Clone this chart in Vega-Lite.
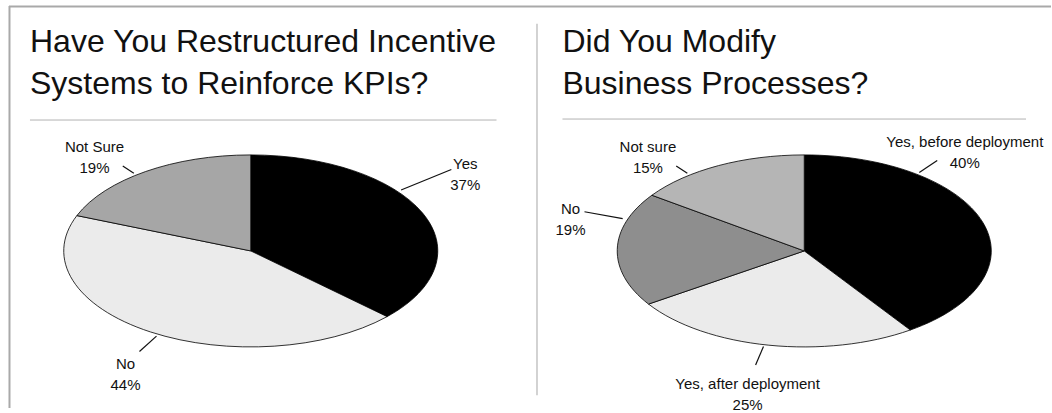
{
  "$schema": "https://vega.github.io/schema/vega-lite/v6.json",
  "width": 1052,
  "height": 413,
  "autosize": {"type": "fit", "contains": "padding"},
  "padding": 0,
  "background": "#ffffff",
  "config": {"view": {"stroke": null}},
  "datasets": {
    "survey": [
      {"panel": "A", "question": "Have You Restructured Incentive Systems to Reinforce KPIs?", "answer": "Yes", "pct": 37},
      {"panel": "A", "question": "Have You Restructured Incentive Systems to Reinforce KPIs?", "answer": "No", "pct": 44},
      {"panel": "A", "question": "Have You Restructured Incentive Systems to Reinforce KPIs?", "answer": "Not Sure", "pct": 19},
      {"panel": "B", "question": "Did You Modify Business Processes?", "answer": "Yes, before deployment", "pct": 40},
      {"panel": "B", "question": "Did You Modify Business Processes?", "answer": "Yes, after deployment", "pct": 25},
      {"panel": "B", "question": "Did You Modify Business Processes?", "answer": "No", "pct": 19},
      {"panel": "B", "question": "Did You Modify Business Processes?", "answer": "Not sure", "pct": 15}
    ]
  },
  "layer": [
    {
      "data": {"values": [{}]},
      "mark": {"type": "rule", "color": "#a9a9a9", "strokeWidth": 2},
      "encoding": {
        "x": {"datum": 9, "type": "quantitative", "scale": {"domain": [0, 1052], "nice": false, "zero": false}, "axis": null},
        "x2": {"datum": 1052},
        "y": {"datum": 6.5, "type": "quantitative", "scale": {"domain": [0, 413], "reverse": true, "nice": false, "zero": false}, "axis": null}
      }
    },
    {
      "data": {"values": [{}]},
      "mark": {"type": "rule", "color": "#a9a9a9", "strokeWidth": 2},
      "encoding": {
        "x": {"datum": 9.5, "type": "quantitative", "scale": {"domain": [0, 1052], "nice": false, "zero": false}, "axis": null},
        "y": {"datum": 6, "type": "quantitative", "scale": {"domain": [0, 413], "reverse": true, "nice": false, "zero": false}, "axis": null},
        "y2": {"datum": 413}
      }
    },
    {
      "data": {"values": [{}]},
      "mark": {"type": "rule", "color": "#c4c4c4", "strokeWidth": 1.5},
      "encoding": {
        "x": {"datum": 537.5, "type": "quantitative", "scale": {"domain": [0, 1052], "nice": false, "zero": false}, "axis": null},
        "y": {"datum": 24, "type": "quantitative", "scale": {"domain": [0, 413], "reverse": true, "nice": false, "zero": false}, "axis": null},
        "y2": {"datum": 400}
      }
    },
    {
      "data": {"values": [{}]},
      "mark": {"type": "rule", "color": "#b3b3b3", "strokeWidth": 1},
      "encoding": {
        "x": {"datum": 30, "type": "quantitative", "scale": {"domain": [0, 1052], "nice": false, "zero": false}, "axis": null},
        "x2": {"datum": 497},
        "y": {"datum": 121.5, "type": "quantitative", "scale": {"domain": [0, 413], "reverse": true, "nice": false, "zero": false}, "axis": null}
      }
    },
    {
      "data": {"values": [{}]},
      "mark": {"type": "rule", "color": "#b3b3b3", "strokeWidth": 1},
      "encoding": {
        "x": {"datum": 563, "type": "quantitative", "scale": {"domain": [0, 1052], "nice": false, "zero": false}, "axis": null},
        "x2": {"datum": 1027},
        "y": {"datum": 120.5, "type": "quantitative", "scale": {"domain": [0, 413], "reverse": true, "nice": false, "zero": false}, "axis": null}
      }
    },
    {
      "data": {"values": [{}]},
      "mark": {"type": "text", "text": ["Have You Restructured Incentive", "Systems to Reinforce KPIs?"], "align": "left", "baseline": "alphabetic", "font": "Liberation Sans", "fontSize": 32, "lineHeight": 42, "color": "#111111"},
      "encoding": {
        "x": {"datum": 30, "type": "quantitative", "scale": {"domain": [0, 1052], "nice": false, "zero": false}, "axis": null},
        "y": {"datum": 52.5, "type": "quantitative", "scale": {"domain": [0, 413], "reverse": true, "nice": false, "zero": false}, "axis": null}
      }
    },
    {
      "data": {"values": [{}]},
      "mark": {"type": "text", "text": ["Did You Modify", "Business Processes?"], "align": "left", "baseline": "alphabetic", "font": "Liberation Sans", "fontSize": 32, "lineHeight": 42, "color": "#111111"},
      "encoding": {
        "x": {"datum": 563, "type": "quantitative", "scale": {"domain": [0, 1052], "nice": false, "zero": false}, "axis": null},
        "y": {"datum": 52.5, "type": "quantitative", "scale": {"domain": [0, 413], "reverse": true, "nice": false, "zero": false}, "axis": null}
      }
    },
    {
      "data": {"name": "survey"},
      "transform": [
        {"joinaggregate": [{"op": "sum", "field": "pct", "as": "total"}], "groupby": ["panel"]},
        {"window": [{"op": "sum", "field": "pct", "as": "cum"}], "groupby": ["panel"], "frame": [null, 0]},
        {"calculate": "(datum.cum - datum.pct) / datum.total", "as": "f0"},
        {"calculate": "datum.cum / datum.total", "as": "f1"},
        {"calculate": "PI * (datum.f0 + datum.f1)", "as": "am"},
        {"calculate": "datum.panel === 'A' ? 251 : 805", "as": "cx"},
        {"calculate": "datum.panel === 'A' ? 22 : 549", "as": "xmin"},
        {"calculate": "datum.panel === 'A' ? 525 : 1046", "as": "xmax"},
        {"calculate": "datum.panel + '|' + datum.answer", "as": "key"},
        {"calculate": "'M0,0L' + (round(10000*sin(2*PI*datum.f0))/10000) + ',' + (round(-5134*cos(2*PI*datum.f0))/10000) + 'A1,0.5134 0 ' + (datum.f1 - datum.f0 > 0.5 ? '1' : '0') + ' 1 ' + (round(10000*sin(2*PI*datum.f1))/10000) + ',' + (round(-5134*cos(2*PI*datum.f1))/10000) + 'Z'", "as": "wedge"},
        {"calculate": "datum.answer + '\\n' + datum.pct + '%'", "as": "label"},
        {"calculate": "7.3 * max(length(datum.answer), length(datum.pct + '%'))", "as": "w"},
        {"calculate": "datum.cx + 223 * sin(datum.am) + sin(datum.am) * datum.w / 2", "as": "lx0"},
        {"calculate": "254 - 137 * cos(datum.am) - 40 * sin(datum.am) * sin(datum.am) * (cos(datum.am) >= -0.3 ? 1 : 0.1)", "as": "ly0"},
        {"calculate": "clamp(datum.lx0, datum.xmin + datum.w / 2, datum.xmax - datum.w / 2)", "as": "lx1"},
        {"calculate": "clamp(datum.ly0, 149, 389)", "as": "ly1"},
        {"calculate": "(254 - clamp(254, datum.ly1 - 23, datum.ly1 + 23)) / 96", "as": "vn"},
        {"calculate": "abs(datum.vn) < 1 ? 187 * sqrt(1 - datum.vn * datum.vn) : 0", "as": "ue"},
        {"calculate": "datum.lx1 > datum.cx ? max(datum.lx1, datum.cx + datum.ue + 30 + datum.w / 2) : min(datum.lx1, datum.cx - datum.ue - 30 - datum.w / 2)", "as": "lxh"},
        {"calculate": "abs(sin(datum.am)) > 0.3 && datum.lxh - datum.w / 2 >= datum.xmin && datum.lxh + datum.w / 2 <= datum.xmax", "as": "hok"},
        {"calculate": "(clamp(datum.cx, datum.lx1 - datum.w / 2 - 4, datum.lx1 + datum.w / 2 + 4) - datum.cx) / 187", "as": "un"},
        {"calculate": "abs(datum.un) < 1 ? 96 * sqrt(1 - datum.un * datum.un) : 0", "as": "ve"},
        {"calculate": "cos(datum.am) >= 0 ? min(datum.ly1, 254 - datum.ve - 4 - 19) : max(datum.ly1, 254 + datum.ve + 5 + 19)", "as": "lyv"},
        {"calculate": "datum.hok ? datum.lxh : datum.lx1", "as": "lx"},
        {"calculate": "datum.hok ? datum.ly1 : datum.lyv", "as": "ly"},
        {"calculate": "(datum.lx - datum.cx) / 187", "as": "du"},
        {"calculate": "(254 - datum.ly) / 96", "as": "dv"},
        {"calculate": "sqrt(datum.du * datum.du + datum.dv * datum.dv)", "as": "dn"},
        {"calculate": "datum.cx + 187 * 1.03 * datum.du / datum.dn", "as": "ex"},
        {"calculate": "254 - 96 * 1.03 * datum.dv / datum.dn", "as": "ey"},
        {"calculate": "min(abs(datum.ex - datum.lx) > 0.01 ? (datum.w / 2 + 3) / abs(datum.ex - datum.lx) : 99, abs(datum.ey - datum.ly) > 0.01 ? 19 / abs(datum.ey - datum.ly) : 99)", "as": "tau"},
        {"calculate": "datum.lx + datum.tau * (datum.ex - datum.lx)", "as": "qx"},
        {"calculate": "datum.ly + datum.tau * (datum.ey - datum.ly)", "as": "qy"}
      ],
      "layer": [
        {
          "mark": {"type": "point", "filled": true, "opacity": 1, "stroke": "#000000", "strokeWidth": 0.8, "strokeOpacity": 1},
          "encoding": {
            "x": {"field": "cx", "type": "quantitative", "scale": {"domain": [0, 1052], "nice": false, "zero": false}, "axis": null},
            "y": {"datum": 254, "type": "quantitative", "scale": {"domain": [0, 413], "reverse": true, "nice": false, "zero": false}, "axis": null},
            "shape": {"field": "wedge", "type": "nominal", "scale": null, "legend": null},
            "size": {"value": 139876},
            "fill": {
              "field": "key", "type": "nominal", "legend": null,
              "scale": {
                "domain": ["A|Yes", "A|No", "A|Not Sure", "B|Yes, before deployment", "B|Yes, after deployment", "B|No", "B|Not sure"],
                "range": ["#000000", "#ebebeb", "#a6a6a6", "#000000", "#ebebeb", "#8e8e8e", "#b5b5b5"]
              }
            }
          }
        },
        {
          "mark": {"type": "rule", "color": "#111111", "strokeWidth": 1.2},
          "encoding": {
            "x": {"field": "ex", "type": "quantitative", "scale": {"domain": [0, 1052], "nice": false, "zero": false}, "axis": null},
            "y": {"field": "ey", "type": "quantitative", "scale": {"domain": [0, 413], "reverse": true, "nice": false, "zero": false}, "axis": null},
            "x2": {"field": "qx"},
            "y2": {"field": "qy"}
          }
        },
        {
          "mark": {"type": "text", "align": "center", "baseline": "middle", "lineBreak": "\n", "lineHeight": 21, "font": "Liberation Sans", "fontSize": 15, "color": "#111111"},
          "encoding": {
            "x": {"field": "lx", "type": "quantitative", "scale": {"domain": [0, 1052], "nice": false, "zero": false}, "axis": null},
            "y": {"field": "ly", "type": "quantitative", "scale": {"domain": [0, 413], "reverse": true, "nice": false, "zero": false}, "axis": null},
            "text": {"field": "label", "type": "nominal"}
          }
        }
      ]
    }
  ]
}
